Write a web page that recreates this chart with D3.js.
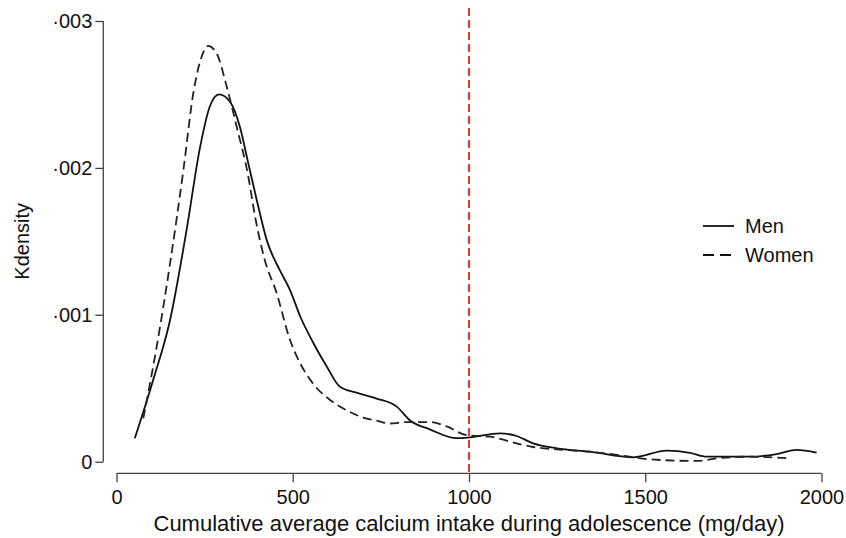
<!DOCTYPE html>
<html>
<head>
<meta charset="utf-8">
<script src="https://cdn.jsdelivr.net/npm/d3@7"></script>
<style>
  body { margin: 0; background: #fff; }
  text { font-family: "Liberation Sans", Arial, sans-serif; fill: #111; }
</style>
</head>
<body>
<svg width="846" height="538"></svg>
<script>
// values (calcium mg/day, density)
var menX = [52, 104, 152, 199, 237, 265, 291, 322, 350, 374, 398, 426, 464, 492, 521, 558, 596, 634, 681, 738, 795, 833, 889, 965, 1003, 1088, 1135, 1182, 1249, 1343, 1466, 1561, 1627, 1674, 1797, 1873, 1930, 1986];
var menY = [0.000159, 0.000556, 0.000965, 0.00158, 0.00214, 0.00242, 0.0025, 0.00245, 0.00228, 0.00203, 0.00178, 0.00151, 0.0013, 0.00117, 0.00099, 0.00081, 0.00065, 0.00051, 0.00047, 0.00043, 0.000375, 0.00028, 0.00022, 0.00016, 0.000166, 0.000193, 0.000175, 0.000125, 0.000091, 0.000068, 0.00003, 0.000075, 0.00006, 0.000034, 0.000034, 0.000052, 0.00008, 0.000061];

var womenX = [76, 114, 152, 190, 218, 242, 260, 284, 313, 341, 374, 393, 421, 454, 492, 521, 558, 606, 653, 700, 738, 776, 823, 889, 937, 994, 1060, 1135, 1182, 1249, 1343, 1440, 1513, 1646, 1703, 1797, 1905];
var womenY = [0.000295, 0.000783, 0.00135, 0.00199, 0.00251, 0.00276, 0.00283, 0.00278, 0.00255, 0.00228, 0.00194, 0.00167, 0.00137, 0.00115, 0.00083, 0.00067, 0.00053, 0.00042, 0.00035, 0.0003, 0.00028, 0.00026, 0.00027, 0.00027, 0.00024, 0.00018, 0.00017, 0.000125, 0.0001, 0.000084, 0.000068, 0.00004, 0.000016, 0.000005, 0.000023, 0.000034, 0.000023];

var xTicks = [0, 500, 1000, 1500, 2000];
var yTicks = [0, 0.001, 0.002, 0.003];
var yTickLabels = ["0", "·001", "·002", "·003"];
var cutoff = 1000;
var seriesNames = ["Men", "Women"];

const svg = d3.select("svg");

const x = d3.scaleLinear().domain([0, 2000]).range([116.5, 821.5]);
const y = d3.scaleLinear().domain([0, 0.003]).range([461.7, 21]);

// y axis (offset left of plot)
const yAxis = svg.append("g")
    .attr("transform", "translate(103.3,0)")
    .call(d3.axisLeft(y).tickValues(yTicks).tickSize(8).tickPadding(3)
        .tickFormat((d, i) => yTickLabels[i]));

// x axis (offset below plot)
const xAxis = svg.append("g")
    .attr("transform", "translate(0,473.3)")
    .call(d3.axisBottom(x).tickValues(xTicks).tickSize(9).tickPadding(8).tickFormat(d3.format("d")));

[yAxis, xAxis].forEach(g => {
    g.select(".domain").attr("stroke", "#444").attr("stroke-width", 1.3);
    g.selectAll(".tick line").attr("stroke", "#444").attr("stroke-width", 1.3);
    g.selectAll(".tick text").style("font-size", "20px").attr("fill", "#111");
});
// drop the outer ticks d3 puts on the domain path
yAxis.select(".domain").attr("d", `M0,${y(0.003)}V${y(0)}`);
xAxis.select(".domain").attr("d", `M${x(0)},0H${x(2000)}`);

svg.append("text")
    .attr("transform", `translate(29,${(y(0) + y(0.003)) / 2}) rotate(-90)`)
    .attr("text-anchor", "middle")
    .style("font-size", "20px")
    .text("Kdensity");

svg.append("text")
    .attr("x", (x(0) + x(2000)) / 2)
    .attr("y", 531)
    .attr("text-anchor", "middle")
    .style("font-size", "22px")
    .text("Cumulative average calcium intake during adolescence (mg/day)");

// reference line
svg.append("line")
    .attr("x1", x(cutoff)).attr("x2", x(cutoff))
    .attr("y1", 8).attr("y2", 473)
    .attr("stroke", "#e8201c")
    .attr("stroke-width", 1.8)
    .attr("stroke-dasharray", "8,4");

const line = d3.line().x(d => x(d[0])).y(d => y(d[1])).curve(d3.curveMonotoneX);

const menData = menX.map((v, i) => [v, menY[i]]);
const womenData = womenX.map((v, i) => [v, womenY[i]]);

svg.append("path")
    .datum(menData)
    .attr("d", line)
    .attr("fill", "none")
    .attr("stroke", "#111")
    .attr("stroke-width", 1.8);

svg.append("path")
    .datum(womenData)
    .attr("d", line)
    .attr("fill", "none")
    .attr("stroke", "#222")
    .attr("stroke-width", 1.8)
    .attr("stroke-dasharray", "9,5");

// legend
const legend = svg.append("g");
seriesNames.forEach((name, i) => {
    const ly = 226 + i * 29;
    legend.append("line")
        .attr("x1", 703).attr("x2", 734)
        .attr("y1", ly).attr("y2", ly)
        .attr("stroke", "#111")
        .attr("stroke-width", 1.8)
        .attr("stroke-dasharray", i === 1 ? "11,6" : null);
    legend.append("text")
        .attr("x", 745)
        .attr("y", ly)
        .attr("dy", "0.35em")
        .style("font-size", "20px")
        .text(name);
});
</script>
</body>
</html>
